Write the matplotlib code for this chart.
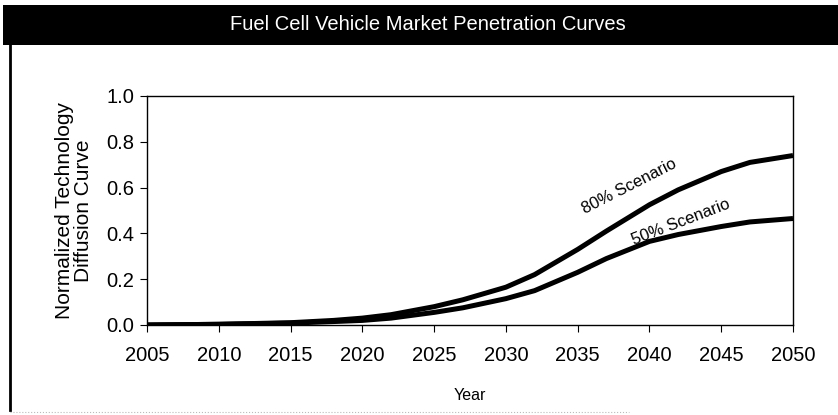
import matplotlib
matplotlib.use('Agg')
import matplotlib.pyplot as plt
from matplotlib.patches import Rectangle
from matplotlib.lines import Line2D

plt.rcParams['font.family'] = ['Liberation Sans', 'DejaVu Sans']

# values
years = [2005, 2010, 2015, 2018, 2020, 2022, 2025, 2027, 2030, 2032,
         2035, 2037, 2040, 2042, 2045, 2047, 2050]
scen80 = [0.0, 0.003, 0.01, 0.02, 0.03, 0.045, 0.08, 0.11, 0.165, 0.22,
          0.33, 0.41, 0.525, 0.59, 0.67, 0.71, 0.74]
scen50 = [0.0, 0.003, 0.008, 0.015, 0.02, 0.03, 0.055, 0.075, 0.115, 0.15,
          0.23, 0.29, 0.365, 0.395, 0.43, 0.45, 0.465]

xticks = [2005, 2010, 2015, 2020, 2025, 2030, 2035, 2040, 2045, 2050]
yticks = [0.0, 0.2, 0.4, 0.6, 0.8, 1.0]

fig = plt.figure(figsize=(8.38, 4.15), dpi=100)

# black title bar
fig.patches.append(Rectangle((0.004, 0.892), 0.996, 0.096, transform=fig.transFigure,
                             facecolor='black', edgecolor='none'))
fig.text(0.511, 0.940, 'Fuel Cell Vehicle Market Penetration Curves', color='white',
         fontsize=14.5, ha='center', va='center')
# left frame line and faint bottom line
fig.lines.append(Line2D([0.012, 0.012], [0.012, 0.892], transform=fig.transFigure,
                        color='black', lw=2))
fig.lines.append(Line2D([0.012, 0.75], [0.008, 0.008], transform=fig.transFigure,
                        color='#bbbbbb', lw=0.8, ls=':'))

ax = fig.add_axes([0.1754, 0.2169, 0.7709, 0.5518])
ax.plot(years, scen80, color='black', lw=3.6, solid_capstyle='butt')
ax.plot(years, scen50, color='black', lw=3.6, solid_capstyle='butt')

ax.set_xlim(2005, 2050)
ax.set_ylim(0, 1.0)
ax.set_xticks(xticks)
ax.set_yticks(yticks)
ax.set_yticklabels(['%.1f' % v for v in yticks])
ax.tick_params(labelsize=14.5, length=5, width=0.8, direction='out', pad=4)
ax.tick_params(axis='x', pad=10)
for sp in ax.spines.values():
    sp.set_linewidth(1.0)

ax.set_xlabel('Year', fontsize=11.5, labelpad=17)
ax.set_ylabel('Normalized Technology\nDiffusion Curve', fontsize=15, labelpad=10,
              linespacing=1.0)

ax.text(2038.6, 0.605, '80% Scenario', fontsize=12, rotation=27,
        ha='center', va='center', rotation_mode='anchor')
ax.text(2042.2, 0.45, '50% Scenario', fontsize=12, rotation=21,
        ha='center', va='center', rotation_mode='anchor')

plt.savefig('out.png', dpi=100)
